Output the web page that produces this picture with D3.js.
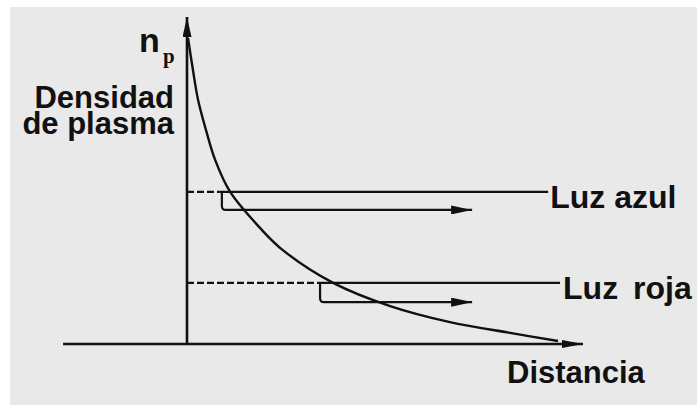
<!DOCTYPE html>
<html>
<head>
<meta charset="utf-8">
<script src="https://cdn.jsdelivr.net/npm/d3@7"></script>
<style>
  body { margin: 0; background: #fff; }
  svg { display: block; }
  text { font-family: "Liberation Sans", Arial, sans-serif; font-weight: bold; fill: #111; }
</style>
</head>
<body>
<div class="chart"></div>
<script>
// curve of plasma density vs distance (axis units 0..100)
var curveDist = [0.25, 1.5, 2.8, 4.8, 7.1, 10.9, 18.9, 24.2, 36.9, 51.3, 66.4, 81.6, 93.7];
var curveDens = [93.6, 83.8, 74.6, 65.4, 56.3, 46.5, 34.9, 28.7, 18.7, 11.6, 6.7, 3.4, 0.9];

// the two light levels
var levelNames = ["Luz azul", "Luz roja"];
var levelDens = [46.5, 18.7];
var levelCross = [8.3, 33.1];   // where the dashed part stops
var levelEnd = [91.2, 94.2];    // where the solid part meets the label
var arrowDens = [41.0, 12.8];   // reflected ray
var arrowEnd = [72.0, 72.0];

var yTitle = ["Densidad", "de plasma"];

var axisXMin = -31.3, axisXMax = 100, axisYMax = 100;

var width = 697, height = 405;

var svg = d3.select(".chart").append("svg").attr("width", width).attr("height", height);

// scanned background with white strip on top/left
svg.append("rect").attr("x", 10).attr("y", 7).attr("width", width - 10).attr("height", height - 7).attr("fill", "#e9e9e9");

var x = d3.scaleLinear().domain([0, 100]).range([187, 583]);
var y = d3.scaleLinear().domain([0, 100]).range([344, 17]);

var ink = "#111";

var defs = svg.append("defs");
function addMarker(id, len, half) {
	defs.append("marker")
		.attr("id", id)
		.attr("markerUnits", "userSpaceOnUse")
		.attr("viewBox", "0 " + (-half) + " " + len + " " + (half * 2))
		.attr("refX", len).attr("refY", 0)
		.attr("markerWidth", len).attr("markerHeight", half * 2)
		.attr("orient", "auto")
		.append("path")
		.attr("d", "M0," + (-half) + "L" + len + ",0L0," + half + "Z")
		.attr("fill", ink);
}
addMarker("arrY", 20, 4.5);
addMarker("arrX", 21, 4);
addMarker("arrL", 21, 4.5);

var g = svg.append("g");

// axes
g.append("line")
	.attr("x1", x(axisXMin)).attr("y1", y(0))
	.attr("x2", x(axisXMax)).attr("y2", y(0))
	.attr("stroke", ink).attr("stroke-width", 2.6)
	.attr("marker-end", "url(#arrX)");
g.append("line")
	.attr("x1", x(0)).attr("y1", y(0))
	.attr("x2", x(0)).attr("y2", y(axisYMax))
	.attr("stroke", ink).attr("stroke-width", 2.6)
	.attr("marker-end", "url(#arrY)");

// density curve
var pts = curveDist.map(function(d, i) { return [d, curveDens[i]]; });
var line = d3.line().x(function(d) { return x(d[0]); }).y(function(d) { return y(d[1]); }).curve(d3.curveCatmullRom.alpha(0.5));
g.append("path").datum(pts).attr("d", line)
	.attr("fill", "none").attr("stroke", ink).attr("stroke-width", 2.4);

// levels
levelNames.forEach(function(name, i) {
	var yl = y(levelDens[i]), ya = y(arrowDens[i]);
	var xc = x(levelCross[i]), r = 4;
	g.append("line")
		.attr("x1", x(0)).attr("y1", yl).attr("x2", xc).attr("y2", yl)
		.attr("stroke", ink).attr("stroke-width", 2.2).attr("stroke-dasharray", "7,3");
	g.append("line")
		.attr("x1", xc).attr("y1", yl).attr("x2", x(levelEnd[i])).attr("y2", yl)
		.attr("stroke", ink).attr("stroke-width", 2.2);
	// reflected ray
	g.append("path")
		.attr("d", "M" + (xc + 2) + "," + yl + "L" + (xc + 2) + "," + (ya - r) +
			"Q" + (xc + 2) + "," + ya + " " + (xc + 2 + r) + "," + ya + "L" + x(arrowEnd[i]) + "," + ya)
		.attr("fill", "none").attr("stroke", ink).attr("stroke-width", 2.2)
		.attr("marker-end", "url(#arrL)");
	g.append("text")
		.attr("x", x(levelEnd[i]) + 2 + i * 1).attr("y", yl + 16)
		.attr("font-size", 32)
		.attr("word-spacing", i == 1 ? 6 : 0)
		.text(name);
});

// labels
g.append("text").attr("x", 139).attr("y", 52).attr("font-size", 34).text("n");
g.append("text").attr("x", 163).attr("y", 63).attr("font-size", 21)
	.style("font-family", "'Liberation Serif', 'Times New Roman', serif").text("p");

// two-line y title in one text block
g.append("text").attr("font-size", 31).attr("text-anchor", "end")
	.selectAll("tspan").data(yTitle).enter().append("tspan")
	.attr("x", 174).attr("y", function(d, i) { return 108 + i * 26; })
	.text(function(d) { return d; });

g.append("text").attr("x", 507).attr("y", 383).attr("font-size", 31).text("Distancia");
</script>
</body>
</html>
